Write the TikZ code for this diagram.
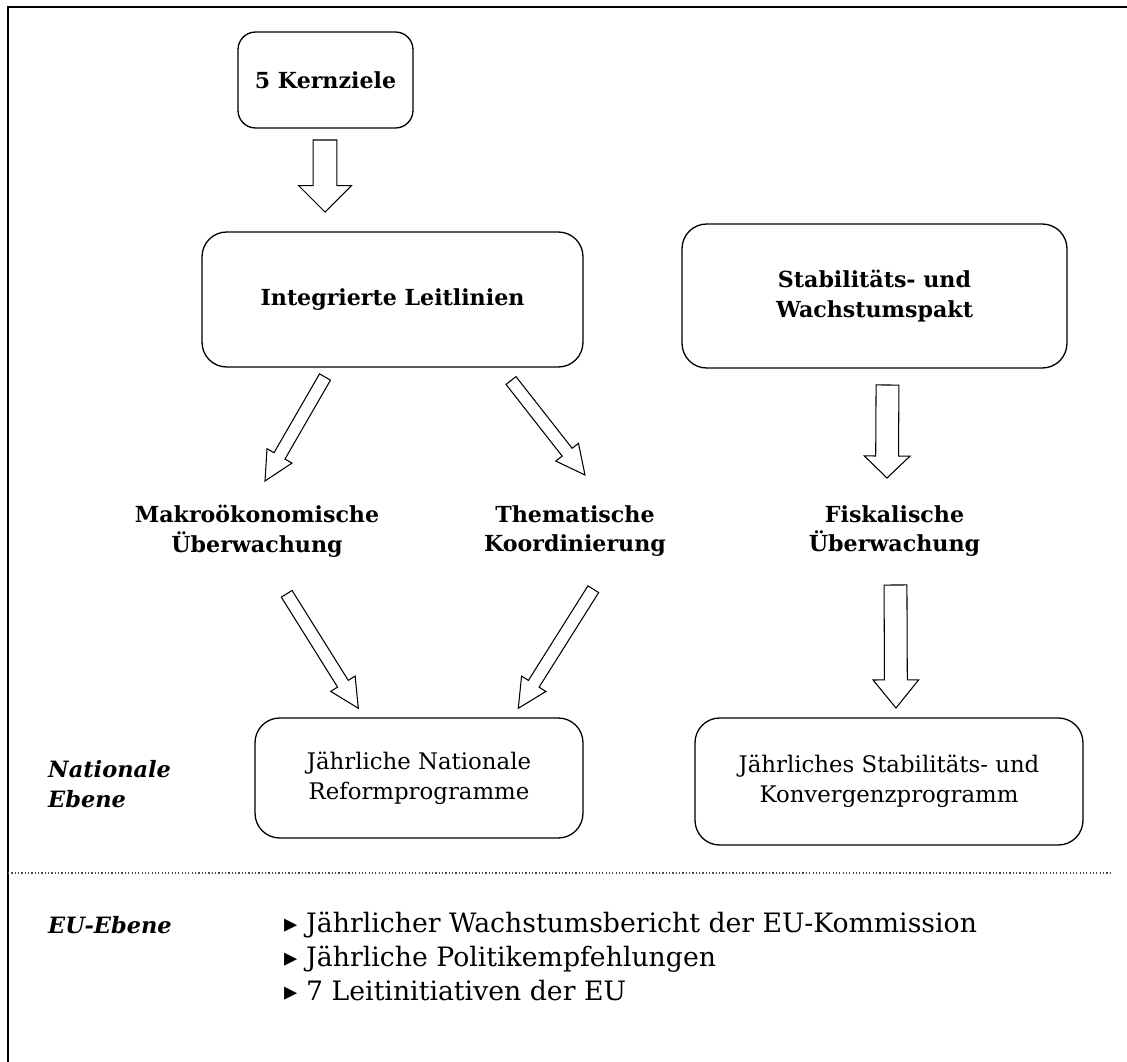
\documentclass[tikz,border=0pt]{standalone}
\usepackage{fontspec}
\setmainfont{DejaVu Serif}
\newfontfamily\symfont{DejaVu Sans}
\usetikzlibrary{calc}

\tikzset{
	box/.style={draw, line width=0.75pt, rounded corners=14pt, align=center,
		font=\bfseries\fontsize{12.6}{17}\selectfont},
	plainbox/.style={box, font=\fontsize{13}{17}\selectfont},
	lbl/.style={align=center, font=\bfseries\fontsize{12.6}{17}\selectfont},
	level/.style={align=left, font=\bfseries\itshape\fontsize{12.8}{17}\selectfont},
	item/.style={anchor=base west, font=\fontsize{15.2}{19}\selectfont},
	hollow/.style n args={3}{draw, fill=white, line width=0.6pt, line join=miter,
		to path={
			($(\tikztostart)!#1!90:(\tikztotarget)$)
			-- ($($(\tikztotarget)!#3!(\tikztostart)$)!#1!90:(\tikztotarget)$)
			-- ($($(\tikztotarget)!#3!(\tikztostart)$)!#2!90:(\tikztotarget)$)
			-- (\tikztotarget)
			-- ($($(\tikztotarget)!#3!(\tikztostart)$)!#2!-90:(\tikztotarget)$)
			-- ($($(\tikztotarget)!#3!(\tikztostart)$)!#1!-90:(\tikztotarget)$)
			-- ($(\tikztostart)!#1!-90:(\tikztotarget)$) -- cycle}},
}

\begin{document}
\begin{tikzpicture}[x=0.02cm, y=-0.02cm]
		\useasboundingbox (0,0) rectangle (1127,1062);
		\draw[line width=1.2pt] (8,1062) -- (8,7) -- (1127,7);
		
		\node[box, rounded corners=10pt, minimum width=3.5cm, minimum height=1.92cm] (kern) at (325.5,80) {5 Kernziele};
		\node[box, minimum width=7.62cm, minimum height=2.7cm] (leit) at (392.5,299.5) {Integrierte Leitlinien};
		\node[box, minimum width=7.7cm, minimum height=2.88cm] (pakt) at (874.5,296) {Stabilitäts- und\\Wachstumspakt};
		
		\node[lbl] (makro) at (257,531) {Makroökonomische\\Überwachung};
		\node[lbl] (thema) at (575,531) {Thematische\\Koordinierung};
		\node[lbl] (fisk) at (894.5,531) {Fiskalische\\Überwachung};
		
		\node[plainbox, minimum width=6.56cm, minimum height=2.4cm] (reform) at (419,778) {Jährliche Nationale\\Reformprogramme};
		\node[plainbox, minimum width=7.76cm, minimum height=2.54cm] (konv) at (889,781.5) {Jährliches Stabilitäts- und\\Konvergenzprogramm};
		
		\node[level, anchor=west] (national) at (42,784) {Nationale\\Ebene};
		\draw[line width=0.7pt, black!70, dash pattern=on 0.7pt off 1.2pt] (8,873) -- (1112,873);
		\node[level, anchor=base west] (eu) at (42,933) {EU-Ebene};
		
		\foreach \txt[count=\i] in {Jährlicher Wachstumsbericht der EU-Kommission,Jährliche Politikempfehlungen,7 Leitinitiativen der EU}{
			\node[item] (item\i) at (278,932+34*\i-34) {{\symfont\fontsize{15}{15}\selectfont ▸}\hspace{5pt}\txt};
		}
		
		% arrow ends
		\coordinate (k1) at (325,140);
		\coordinate (k2) at (325,212);
		\coordinate (l1) at (325,377);
		\coordinate (l2) at (265,481);
		\coordinate (t1) at (511,380.5);
		\coordinate (t2) at (585,475);
		\coordinate (m1) at (286.7,593.8);
		\coordinate (m2) at (358.3,708.3);
		\coordinate (n1) at (593.3,589.2);
		\coordinate (n2) at (518.3,708.3);
		\coordinate (p1) at (887.5,385);
		\coordinate (p2) at (887,478);
		\coordinate (f1) at (895.5,585);
		\coordinate (f2) at (896,708);
		
		\draw[hollow={6.8pt}{15pt}{15pt}] (k1) to (k2);
		\draw[hollow={3.6pt}{8.2pt}{16.5pt}] (l1) to (l2);
		\draw[hollow={3.6pt}{8.2pt}{16.5pt}] (t1) to (t2);
		\draw[hollow={3.6pt}{8.2pt}{16.5pt}] (m1) to (m2);
		\draw[hollow={3.6pt}{8.2pt}{16.5pt}] (n1) to (n2);
		\draw[hollow={6.5pt}{13pt}{12.5pt}] (p1) to (p2);
		\draw[hollow={6.5pt}{13pt}{16pt}] (f1) to (f2);
\end{tikzpicture}
\end{document}
